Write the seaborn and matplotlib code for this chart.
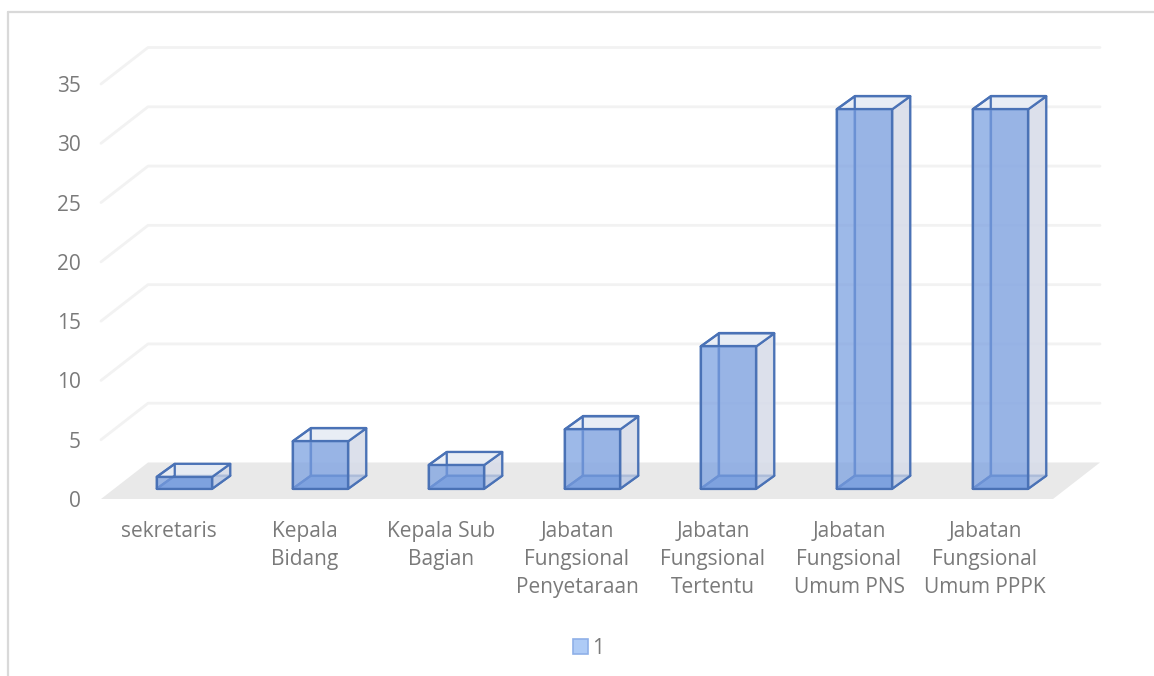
import matplotlib
matplotlib.use("Agg")
import matplotlib.pyplot as plt
import seaborn as sns
from matplotlib.lines import Line2D
from matplotlib.patches import Patch, Polygon
from matplotlib.transforms import Affine2D

categories = ["sekretaris", "Kepala\nBidang", "Kepala Sub\nBagian",
              "Jabatan\nFungsional\nPenyetaraan", "Jabatan\nFungsional\nTertentu",
              "Jabatan\nFungsional\nUmum PNS", "Jabatan\nFungsional\nUmum PPPK"]
values = [1, 4, 2, 5, 12, 32, 32]
y_ticks = [0, 5, 10, 15, 20, 25, 30, 35]
series_name = "1"

W, H = 1154, 676
TEXT = "#7A7A7A"
FS = 15
EDGE = "#4A72B6"

sns.set_theme(style="white")
plt.rcParams["font.family"] = ["Open Sans", "DejaVu Sans"]

fig = plt.figure(figsize=(W / 100, H / 100), dpi=100, facecolor="white")
left, right, bottom_px, top_px = 101, 1053, 499, 84
ax = fig.add_axes([left / W, 1 - bottom_px / H, (right - left) / W, (bottom_px - top_px) / H])

# pixel -> data conversions
sx = 7 / (right - left)
sy = 35 / (bottom_px - top_px)
depth_x, depth_y = 47 * sx, 36.5 * sy        # wall depth of the 3-D box
off_x, off_y = 15.5 * sx, 10.3 * sy          # bar offset into the floor
bd_x, bd_y = 18 * sx, 13 * sy                # bar depth
bar_w = 55.5 * sx

# floor and walls
ax.add_patch(Polygon([(-0.5, 0), (6.5, 0), (6.5 + depth_x, depth_y), (-0.5 + depth_x, depth_y)],
                     closed=True, fc="#E9E9E9", ec="none", zorder=0, clip_on=False))
for t in y_ticks[1:]:
    ax.plot([-0.5, -0.5 + depth_x, 6.5 + depth_x], [t, t + depth_y, t + depth_y],
            color="#F2F2F2", lw=2.0, zorder=0.5, clip_on=False, solid_joinstyle="round")

# front faces through seaborn
sns.barplot(x=categories, y=values, width=bar_w, color="#8FAEE3", saturation=1, ax=ax, zorder=5)
shift = Affine2D().translate(off_x, off_y)
for p in ax.patches:
    if p.get_zorder() != 5:
        continue
    p.set_transform(shift + ax.transData)
    p.set_facecolor((0.47, 0.62, 0.88, 0.72))
    p.set_edgecolor(EDGE)
    p.set_linewidth(1.6)
    p.set_joinstyle("round")
    p.set_clip_on(False)

# remaining box faces, derived from the values
for i, v in enumerate(values):
    x0 = i + off_x - bar_w / 2
    x1 = i + off_x + bar_w / 2
    y0, y1 = off_y, off_y + v
    dx, dy = bd_x, bd_y
    faces = [
        ([(x0 + dx, y0 + dy), (x1 + dx, y0 + dy), (x1 + dx, y1 + dy), (x0 + dx, y1 + dy)], (0.86, 0.88, 0.93, 0.50), 1),
        ([(x0, y0), (x1, y0), (x1 + dx, y0 + dy), (x0 + dx, y0 + dy)], (0.45, 0.60, 0.86, 0.75), 2),
        ([(x1, y0), (x1 + dx, y0 + dy), (x1 + dx, y1 + dy), (x1, y1)], (0.84, 0.86, 0.91, 0.70), 3),
        ([(x0, y1), (x1, y1), (x1 + dx, y1 + dy), (x0 + dx, y1 + dy)], (0.91, 0.93, 0.96, 0.85), 3),
        ([(x0, y0), (x0 + dx, y0 + dy), (x0 + dx, y1 + dy), (x0, y1)], (0.90, 0.92, 0.96, 0.0), 3),
    ]
    for pts, col, z in faces:
        ax.add_patch(Polygon(pts, closed=True, fc=col, ec=EDGE, lw=1.6, zorder=z,
                             clip_on=False, joinstyle="round"))

ax.set_xlim(-0.5, 6.5)
ax.set_ylim(0, 35)
ax.set_yticks(y_ticks)
ax.set_xlabel("")
ax.set_ylabel("")
ax.tick_params(axis="x", length=0, pad=15.5, labelsize=FS, labelcolor=TEXT)
ax.tick_params(axis="y", length=0, pad=14.5, labelsize=FS, labelcolor=TEXT)
for lab in ax.get_xticklabels():
    lab.set_linespacing(1.45)
sns.despine(ax=ax, left=True, bottom=True)
ax.patch.set_alpha(0)

handle = Patch(facecolor="#AECBF6", edgecolor="#8FB0E8", linewidth=1.2, label=series_name)
fig.legend(handles=[handle], loc="center", bbox_to_anchor=(588.5 / W, 1 - 648 / H), frameon=False,
           fontsize=FS, labelcolor=TEXT, handlelength=0.72, handleheight=0.72, handletextpad=0.2)

# chart-area border (cropped at right and bottom)
for xs, ys in [((8, W), (12, 12)), ((8, 8), (12, H))]:
    fig.add_artist(Line2D([x / W for x in xs], [1 - y / H for y in ys], color="#D9D9D9", lw=1.6))

fig.savefig("out.png", dpi=100)
